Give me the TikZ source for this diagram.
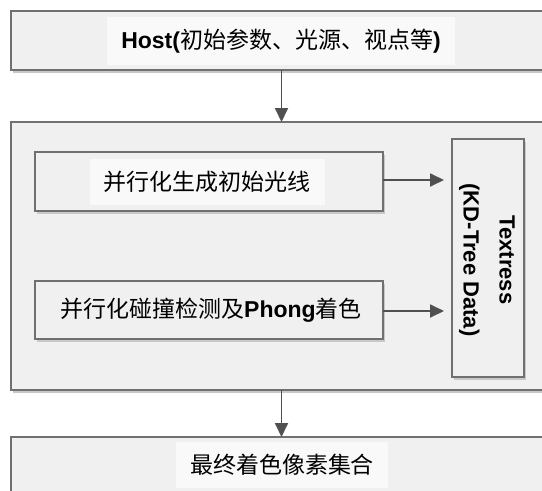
\documentclass[tikz,border=0pt]{standalone}
\usepackage{fontspec}
\setmainfont{Liberation Sans}
\newfontfamily\cjk{Noto Sans CJK SC}
\usetikzlibrary{arrows.meta,shadows}
\definecolor{edge}{RGB}{112,112,112}
\definecolor{boxfill}{RGB}{240,240,240}
\definecolor{glow}{RGB}{249,249,249}
\definecolor{arrc}{RGB}{80,80,80}
\definecolor{shade}{RGB}{200,200,200}
\tikzset{
  box/.style={draw=edge, line width=2pt, fill=boxfill, inner sep=0pt, outer sep=0pt,
    drop shadow={shadow xshift=2pt, shadow yshift=-3pt, fill=shade, opacity=1}},
  lbl/.style={fill=glow, inner xsep=14pt, inner ysep=12pt, font=\fontsize{23}{27}\selectfont},
  arr/.style={draw=arrc, line width=1.8pt, -{Triangle[length=14pt,width=13pt]}},
}
\begin{document}
\begin{tikzpicture}[x=1pt,y=-1pt]
\clip (0,0) rectangle (542,491);
\fill[white] (0,0) rectangle (542,491);
% outer boxes
\node[box, minimum width=541pt, minimum height=59pt] (host) at (281.5,40.5) {};
\node[box, minimum width=541pt, minimum height=268pt] (mid) at (281.5,256) {};
\node[box, minimum width=541pt, minimum height=80pt] (fin) at (281.5,477) {};
% inner boxes
\node[box, minimum width=348pt, minimum height=59pt] (b1) at (209,181.5) {};
\node[box, minimum width=348pt, minimum height=58pt] (b2) at (209,310) {};
\node[box, minimum width=72pt, minimum height=238pt] (tall) at (488,258) {};
% labels
\node[lbl] (hostlbl) at (281,41) {{\bfseries Host(}{\cjk 初始参数、光源、视点等}{\bfseries )}};
\node[lbl] (b1lbl) at (207,182) {\cjk 并行化生成初始光线};
\node[lbl, fill=none] (b2lbl) at (211,310) {{\cjk 并行化碰撞检测及}{\bfseries Phong}{\cjk 着色}};
\node[rotate=-90, align=center, font=\fontsize{22}{36}\selectfont\bfseries] (tlbl) at (487,260) {Textress\\(KD-Tree Data)};
\node[lbl] (finlbl) at (282,465) {\cjk 最终着色像素集合};
% arrows
\draw[arr] (host.south) -- (mid.north);
\draw[arr] (mid.south) -- (fin.north);
\draw[arr, shorten >=8pt] ([yshift=1.5pt]b1.east) -- ([yshift=1.5pt]b1.east -| tall.west);
\draw[arr, shorten >=8pt] ([yshift=-1pt]b2.east) -- ([yshift=-1pt]b2.east -| tall.west);
\end{tikzpicture}
\end{document}
